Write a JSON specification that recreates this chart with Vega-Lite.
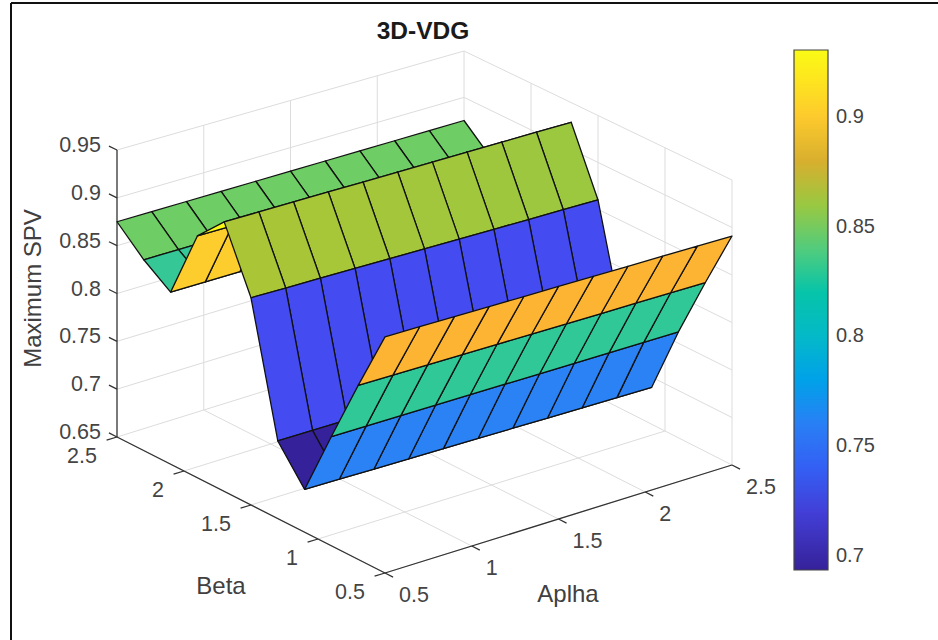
{
"$schema":"https://vega.github.io/schema/vega-lite/v6.json",
"width":938,"height":640,"padding":0,"autosize":{"type":"none"},"background":"white",
"config":{"view":{"stroke":null},"text":{"font":"Liberation Sans"}},
"title":{"text":"3D-VDG","anchor":"middle","dx":-46,"dy":44,"offset":0,"fontSize":24.5,"font":"Liberation Sans","fontWeight":"bold","color":"#1a1a1a"},
"datasets":{
"segments":[
{"k":"g","a1":0.5,"b1":0.5,"z1":0.65,"a2":0.5,"b2":2.5,"z2":0.65},{"k":"g","a1":1,"b1":0.5,"z1":0.65,"a2":1,"b2":2.5,"z2":0.65},{"k":"g","a1":1.5,"b1":0.5,"z1":0.65,"a2":1.5,"b2":2.5,"z2":0.65},{"k":"g","a1":2,"b1":0.5,"z1":0.65,"a2":2,"b2":2.5,"z2":0.65},{"k":"g","a1":2.5,"b1":0.5,"z1":0.65,"a2":2.5,"b2":2.5,"z2":0.65},
{"k":"g","a1":0.5,"b1":0.5,"z1":0.65,"a2":2.5,"b2":0.5,"z2":0.65},{"k":"g","a1":0.5,"b1":1,"z1":0.65,"a2":2.5,"b2":1,"z2":0.65},{"k":"g","a1":0.5,"b1":1.5,"z1":0.65,"a2":2.5,"b2":1.5,"z2":0.65},{"k":"g","a1":0.5,"b1":2,"z1":0.65,"a2":2.5,"b2":2,"z2":0.65},{"k":"g","a1":0.5,"b1":2.5,"z1":0.65,"a2":2.5,"b2":2.5,"z2":0.65},
{"k":"g","a1":0.5,"b1":2.5,"z1":0.7,"a2":2.5,"b2":2.5,"z2":0.7},{"k":"g","a1":0.5,"b1":2.5,"z1":0.75,"a2":2.5,"b2":2.5,"z2":0.75},{"k":"g","a1":0.5,"b1":2.5,"z1":0.8,"a2":2.5,"b2":2.5,"z2":0.8},{"k":"g","a1":0.5,"b1":2.5,"z1":0.85,"a2":2.5,"b2":2.5,"z2":0.85},{"k":"g","a1":0.5,"b1":2.5,"z1":0.9,"a2":2.5,"b2":2.5,"z2":0.9},{"k":"g","a1":0.5,"b1":2.5,"z1":0.95,"a2":2.5,"b2":2.5,"z2":0.95},
{"k":"g","a1":1,"b1":2.5,"z1":0.65,"a2":1,"b2":2.5,"z2":0.95},{"k":"g","a1":1.5,"b1":2.5,"z1":0.65,"a2":1.5,"b2":2.5,"z2":0.95},{"k":"g","a1":2,"b1":2.5,"z1":0.65,"a2":2,"b2":2.5,"z2":0.95},{"k":"g","a1":2.5,"b1":2.5,"z1":0.65,"a2":2.5,"b2":2.5,"z2":0.95},
{"k":"g","a1":2.5,"b1":0.5,"z1":0.7,"a2":2.5,"b2":2.5,"z2":0.7},{"k":"g","a1":2.5,"b1":0.5,"z1":0.75,"a2":2.5,"b2":2.5,"z2":0.75},{"k":"g","a1":2.5,"b1":0.5,"z1":0.8,"a2":2.5,"b2":2.5,"z2":0.8},{"k":"g","a1":2.5,"b1":0.5,"z1":0.85,"a2":2.5,"b2":2.5,"z2":0.85},{"k":"g","a1":2.5,"b1":0.5,"z1":0.9,"a2":2.5,"b2":2.5,"z2":0.9},{"k":"g","a1":2.5,"b1":0.5,"z1":0.95,"a2":2.5,"b2":2.5,"z2":0.95},
{"k":"g","a1":2.5,"b1":0.5,"z1":0.65,"a2":2.5,"b2":0.5,"z2":0.95},{"k":"g","a1":2.5,"b1":1,"z1":0.65,"a2":2.5,"b2":1,"z2":0.95},{"k":"g","a1":2.5,"b1":1.5,"z1":0.65,"a2":2.5,"b2":1.5,"z2":0.95},{"k":"g","a1":2.5,"b1":2,"z1":0.65,"a2":2.5,"b2":2,"z2":0.95},
{"k":"x","a1":0.5,"b1":2.5,"z1":0.65,"a2":0.5,"b2":2.5,"z2":0.95},{"k":"x","a1":0.5,"b1":0.5,"z1":0.65,"a2":0.5,"b2":2.5,"z2":0.65},{"k":"x","a1":0.5,"b1":0.5,"z1":0.65,"a2":2.5,"b2":0.5,"z2":0.65},
{"k":"x","a1":0.5,"b1":2.5,"z1":0.65,"a2":0.5,"b2":2.56,"z2":0.65},{"k":"x","a1":0.5,"b1":2.5,"z1":0.7,"a2":0.5,"b2":2.56,"z2":0.7},{"k":"x","a1":0.5,"b1":2.5,"z1":0.75,"a2":0.5,"b2":2.56,"z2":0.75},{"k":"x","a1":0.5,"b1":2.5,"z1":0.8,"a2":0.5,"b2":2.56,"z2":0.8},{"k":"x","a1":0.5,"b1":2.5,"z1":0.85,"a2":0.5,"b2":2.56,"z2":0.85},{"k":"x","a1":0.5,"b1":2.5,"z1":0.9,"a2":0.5,"b2":2.56,"z2":0.9},{"k":"x","a1":0.5,"b1":2.5,"z1":0.95,"a2":0.5,"b2":2.56,"z2":0.95},
{"k":"x","a1":0.5,"b1":0.5,"z1":0.65,"a2":0.44,"b2":0.5,"z2":0.65},{"k":"x","a1":0.5,"b1":1,"z1":0.65,"a2":0.44,"b2":1,"z2":0.65},{"k":"x","a1":0.5,"b1":1.5,"z1":0.65,"a2":0.44,"b2":1.5,"z2":0.65},{"k":"x","a1":0.5,"b1":2,"z1":0.65,"a2":0.44,"b2":2,"z2":0.65},{"k":"x","a1":0.5,"b1":2.5,"z1":0.65,"a2":0.44,"b2":2.5,"z2":0.65},
{"k":"x","a1":0.5,"b1":0.5,"z1":0.65,"a2":0.5,"b2":0.44,"z2":0.65},{"k":"x","a1":1,"b1":0.5,"z1":0.65,"a2":1,"b2":0.44,"z2":0.65},{"k":"x","a1":1.5,"b1":0.5,"z1":0.65,"a2":1.5,"b2":0.44,"z2":0.65},{"k":"x","a1":2,"b1":0.5,"z1":0.65,"a2":2,"b2":0.44,"z2":0.65},{"k":"x","a1":2.5,"b1":0.5,"z1":0.65,"a2":2.5,"b2":0.44,"z2":0.65}
],
"cells":[
{"alpha":2.3,"beta":2.3,"c1":0.849,"c2":0.849,"c3":0.875,"c4":0.875},{"alpha":2.1,"beta":2.3,"c1":0.849,"c2":0.849,"c3":0.875,"c4":0.875},{"alpha":1.9,"beta":2.3,"c1":0.849,"c2":0.849,"c3":0.875,"c4":0.875},{"alpha":1.7,"beta":2.3,"c1":0.849,"c2":0.849,"c3":0.875,"c4":0.875},{"alpha":1.5,"beta":2.3,"c1":0.849,"c2":0.849,"c3":0.875,"c4":0.875},{"alpha":1.3,"beta":2.3,"c1":0.849,"c2":0.849,"c3":0.875,"c4":0.875},{"alpha":1.1,"beta":2.3,"c1":0.849,"c2":0.849,"c3":0.875,"c4":0.875},{"alpha":0.9,"beta":2.3,"c1":0.849,"c2":0.849,"c3":0.875,"c4":0.875},{"alpha":0.7,"beta":2.3,"c1":0.849,"c2":0.849,"c3":0.875,"c4":0.875},{"alpha":0.5,"beta":2.3,"c1":0.849,"c2":0.849,"c3":0.875,"c4":0.875},
{"alpha":2.3,"beta":2.1,"c1":0.829,"c2":0.829,"c3":0.849,"c4":0.849},{"alpha":2.1,"beta":2.1,"c1":0.829,"c2":0.829,"c3":0.849,"c4":0.849},{"alpha":1.9,"beta":2.1,"c1":0.829,"c2":0.829,"c3":0.849,"c4":0.849},{"alpha":1.7,"beta":2.1,"c1":0.829,"c2":0.829,"c3":0.849,"c4":0.849},{"alpha":1.5,"beta":2.1,"c1":0.829,"c2":0.829,"c3":0.849,"c4":0.849},{"alpha":1.3,"beta":2.1,"c1":0.829,"c2":0.829,"c3":0.849,"c4":0.849},{"alpha":1.1,"beta":2.1,"c1":0.829,"c2":0.829,"c3":0.849,"c4":0.849},{"alpha":0.9,"beta":2.1,"c1":0.829,"c2":0.829,"c3":0.849,"c4":0.849},{"alpha":0.7,"beta":2.1,"c1":0.829,"c2":0.829,"c3":0.849,"c4":0.849},{"alpha":0.5,"beta":2.1,"c1":0.829,"c2":0.829,"c3":0.849,"c4":0.849},
{"alpha":2.3,"beta":1.9,"c1":0.901,"c2":0.901,"c3":0.829,"c4":0.829},{"alpha":2.1,"beta":1.9,"c1":0.901,"c2":0.901,"c3":0.829,"c4":0.829},{"alpha":1.9,"beta":1.9,"c1":0.901,"c2":0.901,"c3":0.829,"c4":0.829},{"alpha":1.7,"beta":1.9,"c1":0.901,"c2":0.901,"c3":0.829,"c4":0.829},{"alpha":1.5,"beta":1.9,"c1":0.901,"c2":0.901,"c3":0.829,"c4":0.829},{"alpha":1.3,"beta":1.9,"c1":0.901,"c2":0.901,"c3":0.829,"c4":0.829},{"alpha":1.1,"beta":1.9,"c1":0.901,"c2":0.901,"c3":0.829,"c4":0.829},{"alpha":0.9,"beta":1.9,"c1":0.901,"c2":0.901,"c3":0.829,"c4":0.829},{"alpha":0.7,"beta":1.9,"c1":0.901,"c2":0.901,"c3":0.829,"c4":0.829},{"alpha":0.5,"beta":1.9,"c1":0.901,"c2":0.901,"c3":0.829,"c4":0.829},
{"alpha":2.3,"beta":1.7,"c1":0.929,"c2":0.929,"c3":0.901,"c4":0.901},{"alpha":2.1,"beta":1.7,"c1":0.929,"c2":0.929,"c3":0.901,"c4":0.901},{"alpha":1.9,"beta":1.7,"c1":0.929,"c2":0.929,"c3":0.901,"c4":0.901},{"alpha":1.7,"beta":1.7,"c1":0.929,"c2":0.929,"c3":0.901,"c4":0.901},{"alpha":1.5,"beta":1.7,"c1":0.929,"c2":0.929,"c3":0.901,"c4":0.901},{"alpha":1.3,"beta":1.7,"c1":0.929,"c2":0.929,"c3":0.901,"c4":0.901},{"alpha":1.1,"beta":1.7,"c1":0.929,"c2":0.929,"c3":0.901,"c4":0.901},{"alpha":0.9,"beta":1.7,"c1":0.929,"c2":0.929,"c3":0.901,"c4":0.901},{"alpha":0.7,"beta":1.7,"c1":0.929,"c2":0.929,"c3":0.901,"c4":0.901},{"alpha":0.5,"beta":1.7,"c1":0.929,"c2":0.929,"c3":0.901,"c4":0.901},
{"alpha":2.3,"beta":1.5,"c1":0.8604,"c2":0.86,"c3":0.929,"c4":0.929},{"alpha":2.1,"beta":1.5,"c1":0.8608,"c2":0.8604,"c3":0.929,"c4":0.929},{"alpha":1.9,"beta":1.5,"c1":0.8612,"c2":0.8608,"c3":0.929,"c4":0.929},{"alpha":1.7,"beta":1.5,"c1":0.8616,"c2":0.8612,"c3":0.929,"c4":0.929},{"alpha":1.5,"beta":1.5,"c1":0.862,"c2":0.8616,"c3":0.929,"c4":0.929},{"alpha":1.3,"beta":1.5,"c1":0.8624,"c2":0.862,"c3":0.929,"c4":0.929},{"alpha":1.1,"beta":1.5,"c1":0.8628,"c2":0.8624,"c3":0.929,"c4":0.929},{"alpha":0.9,"beta":1.5,"c1":0.8632,"c2":0.8628,"c3":0.929,"c4":0.929},{"alpha":0.7,"beta":1.5,"c1":0.8636,"c2":0.8632,"c3":0.929,"c4":0.929},{"alpha":0.5,"beta":1.5,"c1":0.864,"c2":0.8636,"c3":0.929,"c4":0.929},
{"alpha":2.3,"beta":1.3,"c1":0.73,"c2":0.73,"c3":0.86,"c4":0.8604},{"alpha":2.1,"beta":1.3,"c1":0.73,"c2":0.73,"c3":0.8604,"c4":0.8608},{"alpha":1.9,"beta":1.3,"c1":0.73,"c2":0.73,"c3":0.8608,"c4":0.8612},{"alpha":1.7,"beta":1.3,"c1":0.73,"c2":0.73,"c3":0.8612,"c4":0.8616},{"alpha":1.5,"beta":1.3,"c1":0.73,"c2":0.73,"c3":0.8616,"c4":0.862},{"alpha":1.3,"beta":1.3,"c1":0.73,"c2":0.73,"c3":0.862,"c4":0.8624},{"alpha":1.1,"beta":1.3,"c1":0.73,"c2":0.73,"c3":0.8624,"c4":0.8628},{"alpha":0.9,"beta":1.3,"c1":0.73,"c2":0.73,"c3":0.8628,"c4":0.8632},{"alpha":0.7,"beta":1.3,"c1":0.73,"c2":0.73,"c3":0.8632,"c4":0.8636},{"alpha":0.5,"beta":1.3,"c1":0.73,"c2":0.73,"c3":0.8636,"c4":0.864},
{"alpha":2.3,"beta":1.1,"c1":0.6895,"c2":0.689,"c3":0.73,"c4":0.73},{"alpha":2.1,"beta":1.1,"c1":0.69,"c2":0.6895,"c3":0.73,"c4":0.73},{"alpha":1.9,"beta":1.1,"c1":0.6905,"c2":0.69,"c3":0.73,"c4":0.73},{"alpha":1.7,"beta":1.1,"c1":0.691,"c2":0.6905,"c3":0.73,"c4":0.73},{"alpha":1.5,"beta":1.1,"c1":0.6915,"c2":0.691,"c3":0.73,"c4":0.73},{"alpha":1.3,"beta":1.1,"c1":0.692,"c2":0.6915,"c3":0.73,"c4":0.73},{"alpha":1.1,"beta":1.1,"c1":0.6925,"c2":0.692,"c3":0.73,"c4":0.73},{"alpha":0.9,"beta":1.1,"c1":0.693,"c2":0.6925,"c3":0.73,"c4":0.73},{"alpha":0.7,"beta":1.1,"c1":0.6935,"c2":0.693,"c3":0.73,"c4":0.73},{"alpha":0.5,"beta":1.1,"c1":0.694,"c2":0.6935,"c3":0.73,"c4":0.73},
{"alpha":2.3,"beta":0.9,"c1":0.762,"c2":0.762,"c3":0.689,"c4":0.6895},{"alpha":2.1,"beta":0.9,"c1":0.762,"c2":0.762,"c3":0.6895,"c4":0.69},{"alpha":1.9,"beta":0.9,"c1":0.762,"c2":0.762,"c3":0.69,"c4":0.6905},{"alpha":1.7,"beta":0.9,"c1":0.762,"c2":0.762,"c3":0.6905,"c4":0.691},{"alpha":1.5,"beta":0.9,"c1":0.762,"c2":0.762,"c3":0.691,"c4":0.6915},{"alpha":1.3,"beta":0.9,"c1":0.762,"c2":0.762,"c3":0.6915,"c4":0.692},{"alpha":1.1,"beta":0.9,"c1":0.762,"c2":0.762,"c3":0.692,"c4":0.6925},{"alpha":0.9,"beta":0.9,"c1":0.762,"c2":0.762,"c3":0.6925,"c4":0.693},{"alpha":0.7,"beta":0.9,"c1":0.762,"c2":0.762,"c3":0.693,"c4":0.6935},{"alpha":0.5,"beta":0.9,"c1":0.762,"c2":0.762,"c3":0.6935,"c4":0.694},
{"alpha":2.3,"beta":0.7,"c1":0.828,"c2":0.828,"c3":0.762,"c4":0.762},{"alpha":2.1,"beta":0.7,"c1":0.828,"c2":0.828,"c3":0.762,"c4":0.762},{"alpha":1.9,"beta":0.7,"c1":0.828,"c2":0.828,"c3":0.762,"c4":0.762},{"alpha":1.7,"beta":0.7,"c1":0.828,"c2":0.828,"c3":0.762,"c4":0.762},{"alpha":1.5,"beta":0.7,"c1":0.828,"c2":0.828,"c3":0.762,"c4":0.762},{"alpha":1.3,"beta":0.7,"c1":0.828,"c2":0.828,"c3":0.762,"c4":0.762},{"alpha":1.1,"beta":0.7,"c1":0.828,"c2":0.828,"c3":0.762,"c4":0.762},{"alpha":0.9,"beta":0.7,"c1":0.828,"c2":0.828,"c3":0.762,"c4":0.762},{"alpha":0.7,"beta":0.7,"c1":0.828,"c2":0.828,"c3":0.762,"c4":0.762},{"alpha":0.5,"beta":0.7,"c1":0.828,"c2":0.828,"c3":0.762,"c4":0.762},
{"alpha":2.3,"beta":0.5,"c1":0.891,"c2":0.891,"c3":0.828,"c4":0.828},{"alpha":2.1,"beta":0.5,"c1":0.891,"c2":0.891,"c3":0.828,"c4":0.828},{"alpha":1.9,"beta":0.5,"c1":0.891,"c2":0.891,"c3":0.828,"c4":0.828},{"alpha":1.7,"beta":0.5,"c1":0.891,"c2":0.891,"c3":0.828,"c4":0.828},{"alpha":1.5,"beta":0.5,"c1":0.891,"c2":0.891,"c3":0.828,"c4":0.828},{"alpha":1.3,"beta":0.5,"c1":0.891,"c2":0.891,"c3":0.828,"c4":0.828},{"alpha":1.1,"beta":0.5,"c1":0.891,"c2":0.891,"c3":0.828,"c4":0.828},{"alpha":0.9,"beta":0.5,"c1":0.891,"c2":0.891,"c3":0.828,"c4":0.828},{"alpha":0.7,"beta":0.5,"c1":0.891,"c2":0.891,"c3":0.828,"c4":0.828},{"alpha":0.5,"beta":0.5,"c1":0.891,"c2":0.891,"c3":0.828,"c4":0.828}
]
},
"layer":[
{"data":{"name":"segments"},
 "transform":[
  {"calculate":"385+(datum.a1-.5)*173.5-(datum.b1-.5)*134","as":"x1"},
  {"calculate":"573-(datum.a1-.5)*54-(datum.b1-.5)*68-(datum.z1-.65)/.3*(294-4.5*(datum.a1-.5)-3.5*(datum.b1-.5))","as":"y1"},
  {"calculate":"385+(datum.a2-.5)*173.5-(datum.b2-.5)*134","as":"x2"},
  {"calculate":"573-(datum.a2-.5)*54-(datum.b2-.5)*68-(datum.z2-.65)/.3*(294-4.5*(datum.a2-.5)-3.5*(datum.b2-.5))","as":"y2"}],
 "mark":{"type":"rule"},
 "encoding":{
  "x":{"field":"x1","type":"quantitative","scale":{"domain":[0,938],"nice":false,"zero":false},"axis":null},
  "x2":{"field":"x2"},
  "y":{"field":"y1","type":"quantitative","scale":{"domain":[640,0],"nice":false,"zero":false},"axis":null},
  "y2":{"field":"y2"},
  "color":{"field":"k","type":"nominal","scale":{"domain":["g","x"],"range":["#dcdcdc","#333333"]},"legend":null},
  "strokeWidth":{"field":"k","type":"nominal","scale":{"domain":["g","x"],"range":[1,1.3]},"legend":null}}},
{"data":{"name":"cells"},
 "transform":[
  {"fold":["c1","c2","c3","c4"],"as":["corner","spv"]},
  {"calculate":"datum.alpha+(datum.corner=='c2'||datum.corner=='c3'?.2:0)","as":"a"},
  {"calculate":"datum.beta+(datum.corner=='c3'||datum.corner=='c4'?.2:0)","as":"b"},
  {"calculate":"385+(datum.a-.5)*173.5-(datum.b-.5)*134","as":"px"},
  {"calculate":"573-(datum.a-.5)*54-(datum.b-.5)*68-(datum.spv-.65)/.3*(294-4.5*(datum.a-.5)-3.5*(datum.b-.5))","as":"py"}],
 "mark":{"type":"line","interpolate":"linear-closed","stroke":"#111111","strokeWidth":1.3,"strokeJoin":"round"},
 "encoding":{
  "x":{"field":"px","type":"quantitative","scale":{"domain":[0,938],"nice":false,"zero":false},"axis":null},
  "y":{"field":"py","type":"quantitative","scale":{"domain":[640,0],"nice":false,"zero":false},"axis":null},
  "order":{"field":"corner"},
  "detail":[{"field":"alpha"},{"field":"beta"}],
  "fill":{"field":"c1","type":"quantitative",
   "scale":{"type":"linear","clamp":true,"domain":[0.6936,0.73,0.762,0.8,0.829,0.849,0.864,0.878,0.891,0.901,0.9305],
    "range":["#35229a","#444bf0","#2b82f5","#04b9c8","#35c896","#6ecd64","#aac536","#d2ae2e","#fdb432","#fdcd2d","#f9fb15"]},
   "legend":{"title":null,"orient":"none","legendX":794,"legendY":50,"gradientLength":520,"gradientThickness":34,"gradientStrokeColor":"#444444","gradientStrokeWidth":1.2,"values":[0.7,0.75,0.8,0.85,0.9],"format":".2~f","labelFont":"Liberation Sans","labelFontSize":20,"labelColor":"#444444","labelOffset":8,"labelOverlap":false}}}},
{"data":{"values":[{"v":0.7},{"v":0.75},{"v":0.8},{"v":0.85},{"v":0.9}]},
 "transform":[{"calculate":"556-(datum.v-.7)*2196","as":"py"}],
 "mark":{"type":"rule","stroke":"#333333","strokeWidth":1},
 "encoding":{
  "x":{"datum":822,"type":"quantitative","scale":{"domain":[0,938],"nice":false,"zero":false},"axis":null},
  "x2":{"datum":828},
  "y":{"field":"py","type":"quantitative","scale":{"domain":[640,0],"nice":false,"zero":false},"axis":null}}},
{"data":{"values":[{"a":0.5,"b":2.5,"z":0.65,"t":"0.65"},{"a":0.5,"b":2.5,"z":0.7,"t":"0.7"},{"a":0.5,"b":2.5,"z":0.75,"t":"0.75"},{"a":0.5,"b":2.5,"z":0.8,"t":"0.8"},{"a":0.5,"b":2.5,"z":0.85,"t":"0.85"},{"a":0.5,"b":2.5,"z":0.9,"t":"0.9"},{"a":0.5,"b":2.5,"z":0.95,"t":"0.95"}]},
 "transform":[{"calculate":"385+(datum.a-.5)*173.5-(datum.b-.5)*134","as":"px"},{"calculate":"573-(datum.a-.5)*54-(datum.b-.5)*68-(datum.z-.65)/.3*(294-4.5*(datum.a-.5)-3.5*(datum.b-.5))","as":"py"}],
 "mark":{"type":"text","align":"right","baseline":"middle","dx":-16,"dy":-4,"fontSize":21.5,"color":"#444444"},
 "encoding":{"x":{"field":"px","type":"quantitative","scale":{"domain":[0,938],"nice":false,"zero":false},"axis":null},"y":{"field":"py","type":"quantitative","scale":{"domain":[640,0],"nice":false,"zero":false},"axis":null},"text":{"field":"t"}}},
{"data":{"values":[{"a":0.5,"b":0.5,"z":0.65,"t":"0.5"},{"a":0.5,"b":1,"z":0.65,"t":"1"},{"a":0.5,"b":1.5,"z":0.65,"t":"1.5"},{"a":0.5,"b":2,"z":0.65,"t":"2"},{"a":0.5,"b":2.5,"z":0.65,"t":"2.5"}]},
 "transform":[{"calculate":"385+(datum.a-.5)*173.5-(datum.b-.5)*134","as":"px"},{"calculate":"573-(datum.a-.5)*54-(datum.b-.5)*68-(datum.z-.65)/.3*(294-4.5*(datum.a-.5)-3.5*(datum.b-.5))","as":"py"}],
 "mark":{"type":"text","align":"right","baseline":"middle","dx":-20,"dy":20,"fontSize":21.5,"color":"#444444"},
 "encoding":{"x":{"field":"px","type":"quantitative","scale":{"domain":[0,938],"nice":false,"zero":false},"axis":null},"y":{"field":"py","type":"quantitative","scale":{"domain":[640,0],"nice":false,"zero":false},"axis":null},"text":{"field":"t"}}},
{"data":{"values":[{"a":0.5,"b":0.5,"z":0.65,"t":"0.5"},{"a":1,"b":0.5,"z":0.65,"t":"1"},{"a":1.5,"b":0.5,"z":0.65,"t":"1.5"},{"a":2,"b":0.5,"z":0.65,"t":"2"},{"a":2.5,"b":0.5,"z":0.65,"t":"2.5"}]},
 "transform":[{"calculate":"385+(datum.a-.5)*173.5-(datum.b-.5)*134","as":"px"},{"calculate":"573-(datum.a-.5)*54-(datum.b-.5)*68-(datum.z-.65)/.3*(294-4.5*(datum.a-.5)-3.5*(datum.b-.5))","as":"py"}],
 "mark":{"type":"text","align":"left","baseline":"middle","dx":14,"dy":23,"fontSize":21.5,"color":"#444444"},
 "encoding":{"x":{"field":"px","type":"quantitative","scale":{"domain":[0,938],"nice":false,"zero":false},"axis":null},"y":{"field":"py","type":"quantitative","scale":{"domain":[640,0],"nice":false,"zero":false},"axis":null},"text":{"field":"t"}}},
{"data":{"values":[{"a":0.5,"b":1.5,"z":0.65,"t":"Beta"}]},
 "transform":[{"calculate":"385+(datum.a-.5)*173.5-(datum.b-.5)*134","as":"px"},{"calculate":"573-(datum.a-.5)*54-(datum.b-.5)*68-(datum.z-.65)/.3*(294-4.5*(datum.a-.5)-3.5*(datum.b-.5))","as":"py"}],
 "mark":{"type":"text","align":"center","baseline":"middle","dx":-30,"dy":82,"fontSize":24,"color":"#404040"},
 "encoding":{"x":{"field":"px","type":"quantitative","scale":{"domain":[0,938],"nice":false,"zero":false},"axis":null},"y":{"field":"py","type":"quantitative","scale":{"domain":[640,0],"nice":false,"zero":false},"axis":null},"text":{"field":"t"}}},
{"data":{"values":[{"a":1.5,"b":0.5,"z":0.65,"t":"Aplha"}]},
 "transform":[{"calculate":"385+(datum.a-.5)*173.5-(datum.b-.5)*134","as":"px"},{"calculate":"573-(datum.a-.5)*54-(datum.b-.5)*68-(datum.z-.65)/.3*(294-4.5*(datum.a-.5)-3.5*(datum.b-.5))","as":"py"}],
 "mark":{"type":"text","align":"center","baseline":"middle","dx":9.5,"dy":76,"fontSize":24,"color":"#404040"},
 "encoding":{"x":{"field":"px","type":"quantitative","scale":{"domain":[0,938],"nice":false,"zero":false},"axis":null},"y":{"field":"py","type":"quantitative","scale":{"domain":[640,0],"nice":false,"zero":false},"axis":null},"text":{"field":"t"}}},
{"data":{"values":[{"a":0.5,"b":2.5,"z":0.8,"t":"Maximum SPV"}]},
 "transform":[{"calculate":"385+(datum.a-.5)*173.5-(datum.b-.5)*134","as":"px"},{"calculate":"573-(datum.a-.5)*54-(datum.b-.5)*68-(datum.z-.65)/.3*(294-4.5*(datum.a-.5)-3.5*(datum.b-.5))","as":"py"}],
 "mark":{"type":"text","align":"center","baseline":"middle","angle":270,"dx":5,"dy":-83,"fontSize":24,"color":"#404040"},
 "encoding":{"x":{"field":"px","type":"quantitative","scale":{"domain":[0,938],"nice":false,"zero":false},"axis":null},"y":{"field":"py","type":"quantitative","scale":{"domain":[640,0],"nice":false,"zero":false},"axis":null},"text":{"field":"t"}}},
{"data":{"values":[{}]},
 "mark":{"type":"rule","stroke":"#111111","strokeWidth":2},
 "encoding":{"x":{"datum":11,"type":"quantitative","scale":{"domain":[0,938],"nice":false,"zero":false},"axis":null},"y":{"datum":3,"type":"quantitative","scale":{"domain":[640,0],"nice":false,"zero":false},"axis":null},"y2":{"datum":640}}},
{"data":{"values":[{}]},
 "mark":{"type":"rule","stroke":"#111111","strokeWidth":2},
 "encoding":{"x":{"datum":11,"type":"quantitative","scale":{"domain":[0,938],"nice":false,"zero":false},"axis":null},"x2":{"datum":938},"y":{"datum":3,"type":"quantitative","scale":{"domain":[640,0],"nice":false,"zero":false},"axis":null}}}
]
}
